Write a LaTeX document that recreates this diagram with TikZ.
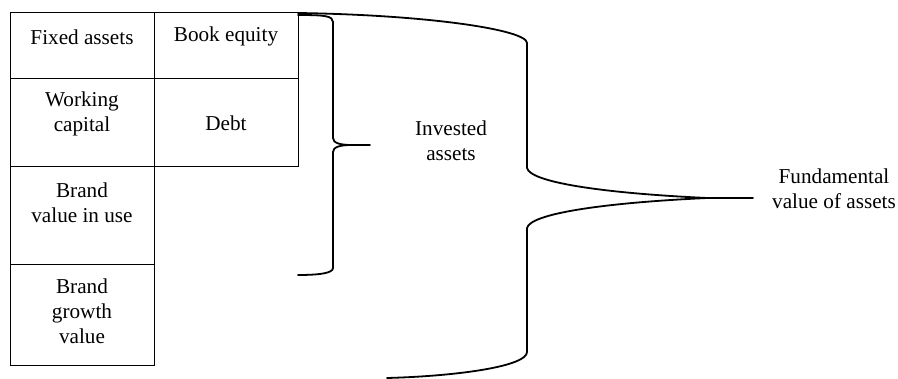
\documentclass[tikz,border=0pt]{standalone}
\usepackage{fontspec}
\setmainfont{Liberation Serif}
\begin{document}
\begin{tikzpicture}[x=0.5pt,y=-0.5pt,
  cell/.style={draw, line width=0.6pt, minimum width=72pt, inner sep=0pt, anchor=north west},
  lbl/.style={align=center, inner sep=0pt, font=\fontsize{10.6}{12.5}\selectfont},
  brace/.style={line width=0.9pt, line join=round, line cap=round}]
\useasboundingbox (0,0) rectangle (898,379);
% cells
\node[cell, minimum height=33pt]   (fa) at (10,12)  {};
\node[cell, minimum height=33pt]   (be) at (154,12) {};
\node[cell, minimum height=44pt]   (wc) at (10,78)  {};
\node[cell, minimum height=44pt]   (de) at (154,78) {};
\node[cell, minimum height=49pt]   (bv) at (10,166) {};
\node[cell, minimum height=50.5pt] (bg) at (10,264) {};
% texts
\node[lbl] (tfa) at (82,37)  {Fixed assets};
\node[lbl] (tbe) at (226,36) {Book equity};
\node[lbl] (twc) at (82,114) {Working\\capital};
\node[lbl] (tde) at (226,123) {Debt};
\node[lbl] (tbv) at (82,203) {Brand\\value in use};
\node[lbl] (tbg) at (82,311) {Brand\\growth\\value};
\node[lbl] (tia) at (451,141) {Invested\\assets};
\node[lbl] (tfv) at (834,189) {Fundamental\\value of assets};
% small brace
\draw[brace] (298,15) .. controls (325,15) and (333,16) .. (333,22) -- (333,138)
  .. controls (333,143) and (340,145) .. (352,145) -- (370,145);
\draw[brace] (352,145) .. controls (340,145) and (333,147) .. (333,152) -- (333,268)
  .. controls (333,273) and (320,275) .. (298,275);
% big brace
\draw[brace] (298,13) .. controls (430,15) and (527,30) .. (527,43) -- (527,168)
  .. controls (530,182) and (600,193) .. (707,198) -- (753,198);
\draw[brace] (707,198) .. controls (600,203) and (530,214) .. (527,228) -- (527,352)
  .. controls (527,366) and (460,376) .. (387,378);
\end{tikzpicture}
\end{document}
